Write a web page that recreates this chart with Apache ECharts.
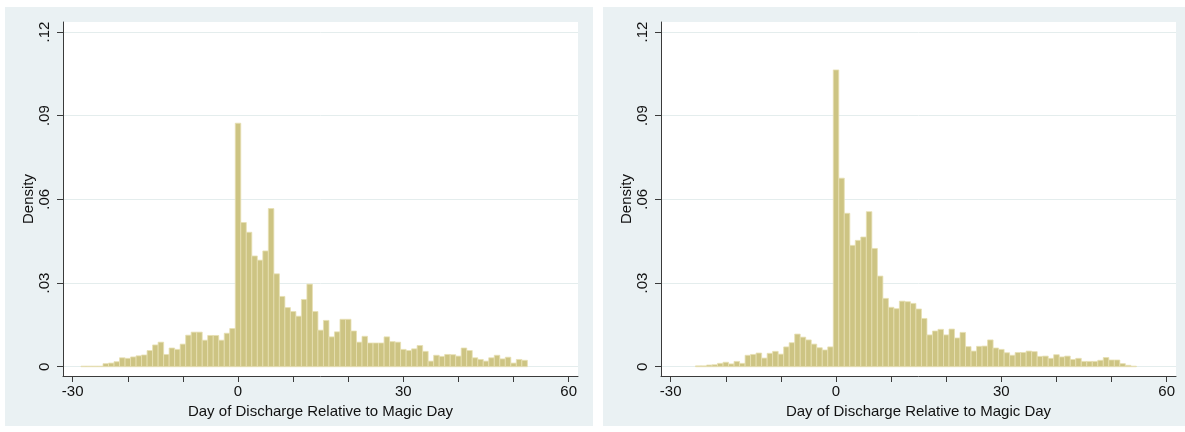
<!DOCTYPE html>
<html><head><meta charset="utf-8">
<script src="https://cdn.jsdelivr.net/npm/echarts@6/dist/echarts.min.js"></script>
<style>html,body{margin:0;padding:0;background:#fff}#c{width:1185px;height:432px}</style>
</head><body><div id="c"></div>
<script>
// Left panel: days -28 .. 52
const leftStart = -28;
const leftDensity = [
  0.0002,0.0002,0.0002,0.0002,0.0011,0.0013,0.0018,0.0032,0.0030,0.0035,
  0.0039,0.0042,0.0058,0.0078,0.0088,0.0044,0.0067,0.0062,0.0081,0.0113,
  0.0124,0.0124,0.0095,0.0112,0.0112,0.0095,0.0120,0.0137,
  0.0873,0.0517,0.0482,0.0397,0.0382,0.0415,0.0567,0.0333,0.0252,0.0212,
  0.0198,0.0181,0.0241,0.0296,0.0198,0.0131,0.0166,0.0107,0.0125,0.0170,
  0.0170,0.0128,0.0088,0.0109,0.0085,0.0085,0.0085,0.0107,0.0090,0.0088,
  0.0062,0.0058,0.0064,0.0076,0.0055,0.0020,0.0041,0.0037,0.0044,0.0043,
  0.0038,0.0067,0.0058,0.0032,0.0026,0.0020,0.0032,0.0041,0.0028,0.0034,
  0.0013,0.0026,0.0023
];
// Right panel: days -25 .. 54
const rightStart = -25;
const rightDensity = [
  0.0003,0.0003,0.0006,0.0007,0.0012,0.0016,0.0010,0.0019,0.0012,0.0041,
  0.0044,0.0049,0.0031,0.0048,0.0055,0.0045,0.0071,0.0086,0.0117,0.0106,
  0.0096,0.0081,0.0068,0.0060,0.0071,
  0.1064,0.0676,0.0550,0.0435,0.0453,0.0465,0.0556,0.0424,0.0325,0.0245,
  0.0213,0.0208,0.0235,0.0233,0.0227,0.0207,0.0173,0.0114,0.0128,0.0134,
  0.0114,0.0135,0.0103,0.0123,0.0072,0.0056,0.0073,0.0074,0.0096,0.0067,
  0.0062,0.0050,0.0041,0.0051,0.0051,0.0056,0.0054,0.0037,0.0038,0.0030,
  0.0043,0.0035,0.0038,0.0026,0.0030,0.0019,0.0019,0.0019,0.0023,0.0033,
  0.0024,0.0024,0.0011,0.0005,0.0002
];
const xTicks = [-30,-20,-10,0,10,20,30,40,50,60];
const xLabels = [-30,0,30,60];
const yTicks = [0,0.03,0.06,0.09,0.12];
const xTitle = 'Day of Discharge Relative to Magic Day';
const yTitle = 'Density';

const FONT = '"Liberation Sans", Arial, sans-serif';
const AX = '#3a3a3a';
const toPairs = (start, arr) => arr.map((v,i)=>[start+i, v]);

function xAxisFor(gi){
  return {
    type:'value', gridIndex:gi, min:-31.76, max:61.69,
    name:xTitle, nameLocation:'middle', nameGap:23,
    nameTextStyle:{fontFamily:FONT,fontSize:15,color:'#111'},
    axisLine:{show:true,onZero:false,lineStyle:{color:AX,width:1}},
    axisTick:{show:true,length:6,inside:false,customValues:xTicks,lineStyle:{color:AX}},
    axisLabel:{customValues:xLabels,fontFamily:FONT,fontSize:15,color:'#111',margin:8},
    splitLine:{show:false}
  };
}
function yAxisFor(gi){
  return {
    type:'value', gridIndex:gi, min:-0.00333, max:0.12359,
    name:yTitle, nameLocation:'middle', nameGap:27, nameRotate:90,
    nameTextStyle:{fontFamily:FONT,fontSize:15,color:'#111'},
    axisLine:{show:true,onZero:false,lineStyle:{color:AX,width:1}},
    axisTick:{show:true,length:6,customValues:yTicks,lineStyle:{color:AX}},
    axisLabel:{customValues:yTicks,rotate:90,fontFamily:FONT,fontSize:15,color:'#111',margin:11,
      formatter:v=> v===0 ? '0' : String(+v.toFixed(2)).replace(/^0/,'')},
    splitLine:{show:true,lineStyle:{color:'#e4eded',width:1}}
  };
}
function histSeries(gi, data){
  return {
    type:'custom', xAxisIndex:gi, yAxisIndex:gi, data:data,
    renderItem:(params, api)=>{
      const x = api.value(0), y = api.value(1);
      const p0 = api.coord([x-0.5, y]);
      const p1 = api.coord([x+0.5, 0]);
      return {type:'rect', shape:{x:p0[0], y:p0[1], width:p1[0]-p0[0], height:p1[1]-p0[1]},
        style:{fill:'#cdc483', stroke:'#e7dfb2', lineWidth:0.8}};
    }
  };
}

const chart = echarts.init(document.getElementById('c'), null, {renderer:'canvas'});
chart.setOption({
  animation:false,
  backgroundColor:'#ffffff',
  graphic:[
    {type:'rect',z:-10,shape:{x:5,y:7,width:588,height:419},style:{fill:'#eaf1f3'},silent:true},
    {type:'rect',z:-10,shape:{x:603,y:7,width:588,height:419},style:{fill:'#eaf1f3'},silent:true}
  ],
  grid:[
    {left:63, top:22, width:515, height:354, show:true, backgroundColor:'#ffffff', borderWidth:0},
    {left:661, top:22, width:515, height:354, show:true, backgroundColor:'#ffffff', borderWidth:0}
  ],
  xAxis:[xAxisFor(0), xAxisFor(1)],
  yAxis:[yAxisFor(0), yAxisFor(1)],
  series:[histSeries(0,toPairs(leftStart,leftDensity)), histSeries(1,toPairs(rightStart,rightDensity))]
});
</script></body></html>
